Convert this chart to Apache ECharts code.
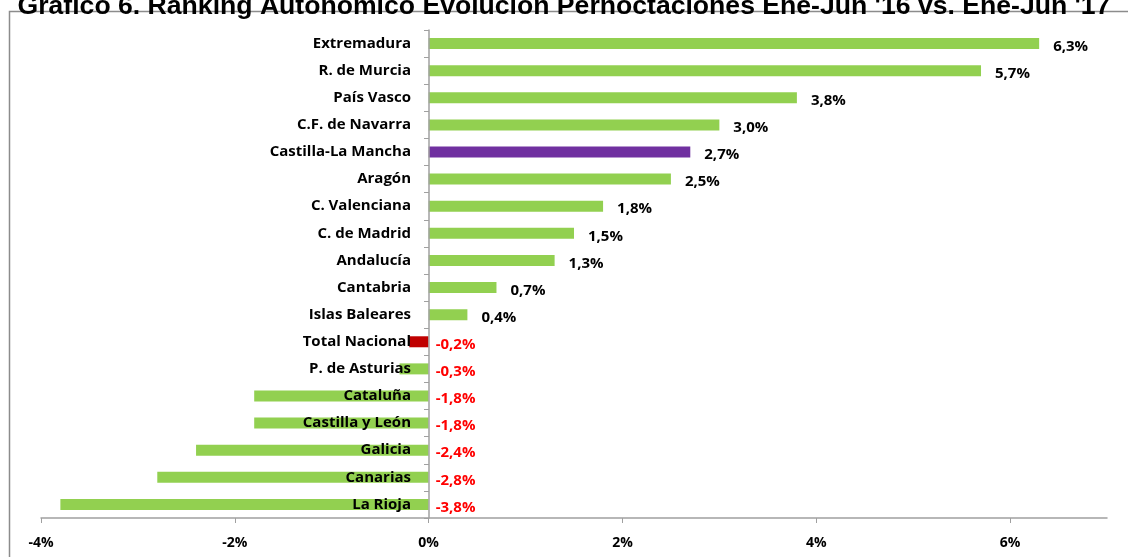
<!DOCTYPE html>
<html>
<head>
<meta charset="utf-8">
<script src="https://cdn.jsdelivr.net/npm/echarts@6/dist/echarts.min.js"></script>
<style>
  html, body { margin: 0; padding: 0; background: #fff; }
  #chart { width: 1128px; height: 557px; }
</style>
</head>
<body>
<div id="chart"></div>
<script>
// categories bottom -> top (category axis starts at bottom)
var regiones = ['La Rioja', 'Canarias', 'Galicia', 'Castilla y León', 'Cataluña', 'P. de Asturias',
  'Total Nacional', 'Islas Baleares', 'Cantabria', 'Andalucía', 'C. de Madrid', 'C. Valenciana',
  'Aragón', 'Castilla-La Mancha', 'C.F. de Navarra', 'País Vasco', 'R. de Murcia', 'Extremadura'];
var variacion = [-3.8, -2.8, -2.4, -1.8, -1.8, -0.3, -0.2, 0.4, 0.7, 1.3, 1.5, 1.8, 2.5, 2.7, 3.0, 3.8, 5.7, 6.3];
var ejeTicks = [-4, -2, 0, 2, 4, 6];

var verde = '#92D050';
var morado = '#7030A0';
var rojo = '#C00000';

var chart = echarts.init(document.getElementById('chart'));

var datos = variacion.map(function (v, i) {
  var color = verde;
  if (regiones[i] === 'Castilla-La Mancha') color = morado;
  if (regiones[i] === 'Total Nacional') color = rojo;
  return {
    value: v,
    itemStyle: { color: color },
    label: { color: v < 0 ? '#FF0000' : '#000', distance: v < 0 ? 7 : 14 }
  };
});

var fuente = 'Open Sans';

var option = {
  animation: false,
  title: {
    text: "Gráfico 6. Ranking Autonómico Evolución Pernoctaciones Ene-Jun '16 vs. Ene-Jun '17",
    left: 'center',
    top: -12,
    textStyle: { fontFamily: 'Liberation Sans', fontWeight: 'bold', fontSize: 26.6, color: '#000' }
  },
  graphic: [{
    type: 'rect',
    left: 7, top: 9,
    shape: { width: 1200, height: 600 },
    style: { fill: 'none', stroke: '#8c8c8c', lineWidth: 1.5 },
    z: -1
  }],
  grid: { left: 41, right: 21, top: 30, bottom: 39, containLabel: false, outerBoundsMode: 'none' },
  xAxis: {
    type: 'value',
    min: -4, max: 7, interval: 2,
    splitLine: { show: false },
    axisLine: { show: true, lineStyle: { color: '#a0a0a0', width: 1.5 } },
    axisTick: { show: true, length: 5, lineStyle: { color: '#a0a0a0' } },
    axisLabel: {
      margin: 18,
      showMaxLabel: false,
      fontFamily: fuente, fontWeight: 'bold', fontSize: 14, color: '#000',
      formatter: function (v) { return ejeTicks.indexOf(v) >= 0 ? v + '%' : ''; }
    }
  },
  yAxis: {
    type: 'category',
    data: regiones,
    z: 10,
    position: 'left',
    offset: -388,
    axisLine: { show: true, onZero: false, lineStyle: { color: '#a0a0a0', width: 1.5 } },
    axisTick: { show: true, length: 5, lineStyle: { color: '#a0a0a0' } },
    axisLabel: {
      margin: 18,
      overflow: 'none',
      fontFamily: fuente, fontWeight: 'bold', fontSize: 15, color: '#000'
    }
  },
  series: [{
    type: 'bar',
    data: datos,
    barWidth: 11,
    label: {
      show: true,
      position: 'right',
      offset: [0, 3],
      fontFamily: fuente, fontWeight: 'bold', fontSize: 15,
      formatter: function (p) { return p.value.toFixed(1).replace('.', ',') + '%'; }
    }
  }]
};

chart.setOption(option);
</script>
</body>
</html>
